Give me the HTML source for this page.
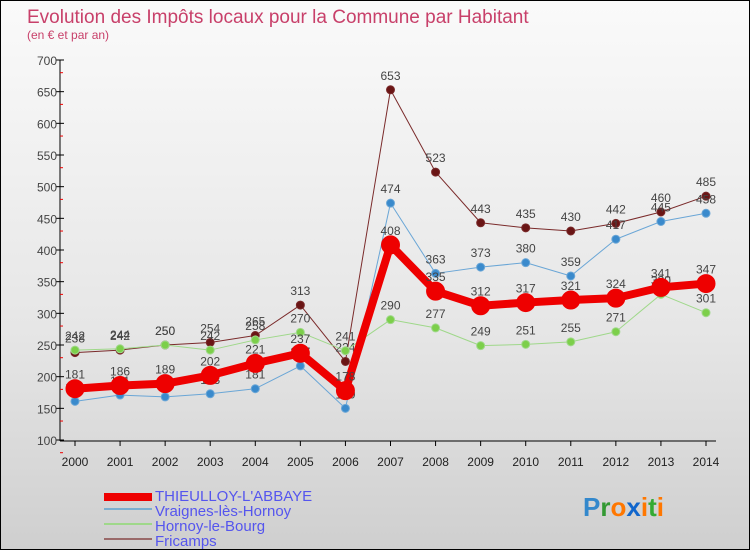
<!DOCTYPE html>
<html><head><meta charset="utf-8"><style>
body{margin:0;width:750px;height:550px;overflow:hidden;font-family:"Liberation Sans",sans-serif}
#wrap{position:relative;width:748px;height:548px;border:1px solid #000;background:linear-gradient(#fafafa,#e6e6e6 60%,#cfcfcf)}
</style></head><body>
<div id="wrap">
<svg id="chart" width="748" height="548">
<text x="26" y="22" font-size="19" fill="#c8406a">Evolution des Impôts locaux pour la Commune par Habitant</text>
<text x="26" y="38" font-size="12" fill="#c8406a">(en € et par an)</text>
<g id="axes"></g><g id="series"></g>
<g>
<rect x="103" y="492" width="48" height="8" fill="#e00"/>
<text x="154" y="500" font-size="15" fill="#5555ee">THIEULLOY-L'ABBAYE</text>
<rect x="103" y="507" width="48" height="2" fill="#7aaed0"/>
<text x="154" y="515" font-size="15" fill="#5555ee">Vraignes-lès-Hornoy</text>
<rect x="103" y="522" width="48" height="2" fill="#9fd88a"/>
<text x="154" y="530" font-size="15" fill="#5555ee">Hornoy-le-Bourg</text>
<rect x="103" y="537" width="48" height="2" fill="#9a6a6a"/>
<text x="154" y="545" font-size="15" fill="#5555ee">Fricamps</text>
</g>
<g font-size="26" font-weight="bold">
<text x="582" y="515"><tspan fill="#3388cc">P</tspan><tspan fill="#339933">r</tspan><tspan fill="#ff7700">o</tspan><tspan fill="#1166cc">x</tspan><tspan fill="#ff7700">i</tspan><tspan fill="#33aa33">t</tspan><tspan fill="#ff7700">i</tspan></text>
</g>
</svg>
</div>
<script>
const years=[2000,2001,2002,2003,2004,2005,2006,2007,2008,2009,2010,2011,2012,2013,2014];
const yTicks=[100,150,200,250,300,350,400,450,500,550,600,650,700];
const thieulloy=[181,186,189,202,221,237,178,408,335,312,317,321,324,341,347];
const vraignes=[161,171,168,173,181,217,150,474,363,373,380,359,417,445,458];
const hornoy=[242,244,250,242,258,270,241,290,277,249,251,255,271,330,301];
const fricamps=[238,242,250,254,265,313,224,653,523,443,435,430,442,460,485];
const NS="http://www.w3.org/2000/svg";
function xS(i){return 74+i*(705-74)/14;}
function yS(v){return 59+(700-v)*(439-59)/600;}
function mk(tag,attrs,parent){const e=document.createElementNS(NS,tag);for(const k in attrs)e.setAttribute(k,attrs[k]);parent.appendChild(e);return e;}
const ax=document.getElementById('axes'),sg=document.getElementById('series');
let a=mk('line',{x1:59,y1:59,x2:59,y2:440,stroke:'#000'},ax);


a=mk('line',{x1:59,y1:440,x2:715,y2:440,stroke:'#000'},ax);


yTicks.forEach(v=>{const y=yS(v);
mk('line',{x1:55,y1:y,x2:63,y2:y,stroke:'#000'},ax);
mk('line',{x1:59,y1:y+12.7,x2:62,y2:y+12.7,stroke:'#e00'},ax);
const t=mk('text',{x:56,y:y+5,'text-anchor':'end','font-size':12,fill:'#444'},ax);t.textContent=v;

});
years.forEach((yr,i)=>{const x=xS(i);
mk('line',{x1:x,y1:440,x2:x,y2:445,stroke:'#000'},ax);
const t=mk('text',{x:x,y:465,'text-anchor':'middle','font-size':12,fill:'#222'},ax);t.textContent=yr;

});
function draw(data,name,color,dot,w,r){
const g=mk('g',{},sg);


const p=mk('polyline',{points:data.map((v,i)=>xS(i)+','+yS(v)).join(' '),fill:'none',stroke:color,'stroke-width':w,'stroke-linejoin':'round'},g);


data.forEach((v,i)=>{const c=mk('circle',{cx:xS(i),cy:yS(v),r:r,fill:dot,stroke:color,'stroke-width':1},g);


const t=mk('text',{x:xS(i),y:yS(v)-10,'text-anchor':'middle','font-size':12,fill:'#444'},g);t.textContent=v;

});}
draw(fricamps,'fricamps','#7a2a2a','#6a1515',1,4);
draw(hornoy,'hornoy','#9fd88a','#7ccf4a',1,4);
draw(vraignes,'vraignes','#6aa6d6','#3a8acc',1,4);
draw(thieulloy,'thieulloy','#ee0000','#ee0000',8,9);
</script>
</body></html>
